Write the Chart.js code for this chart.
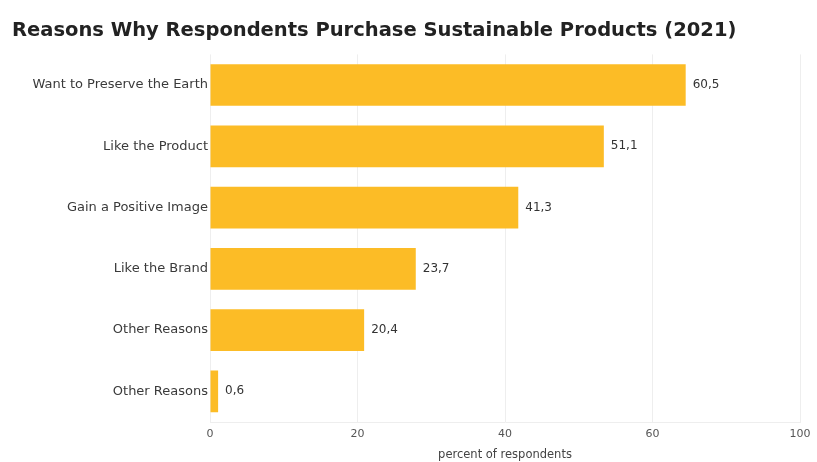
<!DOCTYPE html>
<html>
<head>
<meta charset="utf-8">
<script src="https://cdn.jsdelivr.net/npm/chart.js@4.4.1/dist/chart.umd.min.js"></script>
<style>
  html, body { margin: 0; padding: 0; background: #ffffff; }
  #wrap { width: 817px; height: 462px; position: relative; }
</style>
</head>
<body>
<div id="wrap"><canvas id="c" width="817" height="462"></canvas></div>
<script>
const categories = [
  'Want to Preserve the Earth',
  'Like the Product',
  'Gain a Positive Image',
  'Like the Brand',
  'Other Reasons',
  'Other Reasons'
];
// bar lengths as drawn in the picture (axis units)
const barValues = [64.5, 53.4, 41.8, 27.9, 20.9, 1.1];
// value labels printed next to the bars
const valueLabels = ['60,5', '51,1', '41,3', '23,7', '20,4', '0,6'];
// tick labels printed under the axis
const tickLabels = ['0', '20', '40', '60', '100'];

const FONT = '"DejaVu Sans", "Open Sans", sans-serif';

const valueLabelPlugin = {
  id: 'valueLabels',
  afterDatasetsDraw(chart) {
    const ctx = chart.ctx;
    const meta = chart.getDatasetMeta(0);
    ctx.save();
    ctx.font = '12px ' + FONT;
    ctx.fillStyle = '#333333';
    ctx.textAlign = 'left';
    ctx.textBaseline = 'middle';
    meta.data.forEach((bar, i) => {
      ctx.fillText(valueLabels[i], bar.x + 7, bar.y);
    });
    ctx.restore();
  }
};

new Chart(document.getElementById('c'), {
  type: 'bar',
  data: {
    labels: categories,
    datasets: [{
      data: barValues,
      backgroundColor: '#FCBC26',
      borderWidth: 0,
      categoryPercentage: 0.8,
      barPercentage: 0.85
    }]
  },
  options: {
    indexAxis: 'y',
    responsive: false,
    animation: false,
    devicePixelRatio: 1,
    layout: { padding: { left: 12, right: 17, bottom: 0, top: 0 } },
    plugins: {
      legend: { display: false },
      tooltip: { enabled: false },
      title: {
        display: true,
        text: 'Reasons Why Respondents Purchase Sustainable Products (2021)',
        align: 'start',
        color: '#222222',
        font: { family: FONT, size: 19.5, weight: 'bold' },
        padding: { top: 19, bottom: 12 }
      }
    },
    scales: {
      x: {
        type: 'linear',
        min: 0,
        max: 80,
        ticks: {
          stepSize: 20,
          color: '#555555',
          font: { family: FONT, size: 11 },
          padding: 6,
          callback: (v, i) => tickLabels[i]
        },
        grid: { color: '#eeeeee', drawTicks: false },
        border: { display: true, color: '#eeeeee' },
        title: {
          display: true,
          text: 'percent of respondents',
          color: '#444444',
          font: { family: FONT, size: 11.5 },
          padding: { top: 1, bottom: 0 }
        }
      },
      y: {
        grid: { display: false, drawTicks: false },
        border: { display: false },
        ticks: {
          color: '#3a3a3a',
          font: { family: FONT, size: 13 },
          padding: 2
        },
        afterFit(scale) { scale.width = 198; }
      }
    }
  },
  plugins: [valueLabelPlugin]
});
</script>
</body>
</html>
